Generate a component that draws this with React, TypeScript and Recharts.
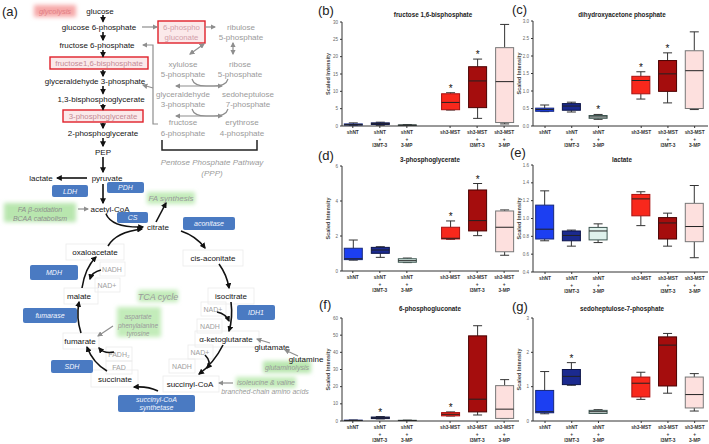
import React from "react";
import { ComposedChart, Bar, XAxis, YAxis } from "recharts";

const FONT = "'Liberation Sans', Arial, Helvetica, sans-serif";

// groups on the x axis (gap between shNT and sh3-MST sets)
const groupPos = [1, 2, 3, 4.6, 5.6, 6.6];
const groupLines = [
  ["shNT"],
  ["shNT", "+", "I3MT-3"],
  ["shNT", "+", "3-MP"],
  ["sh3-MST"],
  ["sh3-MST", "+", "I3MT-3"],
  ["sh3-MST", "+", "3-MP"],
];
const groupFill = ["#1c3ff2", "#1b2a8f", "#dff1ec", "#f8281c", "#a50d0d", "#fde0de"];
const groupStroke = ["#17287a", "#0b144a", "#3e5752", "#a81010", "#4a0000", "#777777"];

// [min, q1, median, q3, max] per group
const f16bpStats = [
  [0.1, 0.25, 0.4, 0.6, 0.9],
  [0.2, 0.45, 0.65, 0.9, 1.1],
  [0.1, 0.18, 0.25, 0.3, 0.4],
  [4.6, 4.7, 6.8, 9.3, 9.6],
  [2.2, 5.3, 13.0, 17.1, 19.3],
  [0.6, 1.0, 12.8, 22.6, 29.3],
];
const f16bpStars = [false, false, false, true, true, false];
const f16bpTicks = [0, 5, 10, 15, 20, 25, 30];

const dhapStats = [
  [0.41, 0.42, 0.47, 0.51, 0.6],
  [0.4, 0.45, 0.57, 0.64, 0.68],
  [0.19, 0.22, 0.26, 0.3, 0.33],
  [0.77, 0.92, 1.3, 1.42, 1.55],
  [0.66, 0.99, 1.49, 1.87, 2.09],
  [0.47, 0.5, 1.58, 2.15, 2.69],
];
const dhapStars = [false, false, true, true, true, false];
const dhapTicks = [0, 0.5, 1, 1.5, 2, 2.5, 3];

const pgStats = [
  [0.62, 0.65, 0.7, 1.3, 1.77],
  [0.78, 1.01, 1.2, 1.35, 1.39],
  [0.48, 0.5, 0.59, 0.7, 0.74],
  [1.81, 1.83, 1.87, 2.5, 2.86],
  [2.02, 2.29, 2.88, 4.63, 5.0],
  [0.9, 1.1, 2.5, 3.43, 3.49],
];
const pgStars = [false, false, false, true, true, false];
const pgTicks = [0, 2, 4, 6];

const lactateStats = [
  [0.75, 0.77, 0.88, 1.15, 1.31],
  [0.69, 0.75, 0.81, 0.86, 0.87],
  [0.73, 0.76, 0.86, 0.9, 0.94],
  [0.92, 1.03, 1.22, 1.27, 1.3],
  [0.69, 0.77, 0.95, 1.01, 1.06],
  [0.56, 0.74, 0.91, 1.17, 1.37],
];
const lactateStars = [false, false, false, false, false, false];
const lactateTicks = [0.4, 0.6, 0.8, 1.0, 1.2, 1.4, 1.6];

const pgluStats = [
  [0.1, 0.2, 0.3, 0.5, 0.6],
  [1.2, 1.4, 1.8, 2.3, 2.6],
  [0.1, 0.2, 0.3, 0.4, 0.5],
  [2.9, 3.0, 3.9, 4.9, 5.3],
  [3.5, 5.3, 12.7, 49.6, 55.5],
  [1.4, 1.5, 6.9, 20.6, 24.1],
];
const pgluStars = [false, true, false, true, false, false];
const pgluTicks = [0, 10, 20, 30, 40, 50, 60];

const s7pStats = [
  [0.21, 0.24, 0.27, 0.89, 1.44],
  [1.04, 1.06, 1.3, 1.5, 1.7],
  [0.22, 0.22, 0.27, 0.31, 0.33],
  [0.63, 0.7, 1.1, 1.28, 1.42],
  [0.81, 1.02, 2.21, 2.45, 2.55],
  [0.29, 0.38, 0.77, 1.28, 1.38],
];
const s7pStars = [false, true, false, false, false, false];
const s7pTicks = [0, 1, 2, 3];

const BoxShape = (props: any) => {
  const { x, y, width, height, payload } = props;
  const [lo, q1, med, q3, hi] = payload.stats;
  const span = hi - lo || 1;
  const py = (v: number) => y + ((hi - v) / span) * height;
  const cx = x + width / 2;
  const bw = 18;
  const i = payload.idx;
  const cap = 4.5;
  return (
    <g>
      <line x1={cx} x2={cx} y1={py(hi)} y2={py(q3)} stroke="#333" strokeWidth={1} />
      <line x1={cx} x2={cx} y1={py(q1)} y2={py(lo)} stroke="#333" strokeWidth={1} />
      <line x1={cx - cap} x2={cx + cap} y1={py(hi)} y2={py(hi)} stroke="#333" strokeWidth={1} />
      <line x1={cx - cap} x2={cx + cap} y1={py(lo)} y2={py(lo)} stroke="#333" strokeWidth={1} />
      <rect
        x={cx - bw / 2}
        y={py(q3)}
        width={bw}
        height={Math.max(py(q1) - py(q3), 1)}
        fill={groupFill[i]}
        stroke={groupStroke[i]}
        strokeWidth={1}
      />
      <line x1={cx - bw / 2} x2={cx + bw / 2} y1={py(med)} y2={py(med)} stroke="#222" strokeWidth={1} />
      {payload.star && (
        <text x={cx} y={py(hi) - 1} textAnchor="middle" fontSize={10} fontFamily={FONT} fill="#111">
          *
        </text>
      )}
    </g>
  );
};

const GroupTick = (props: any) => {
  const { x, y, payload } = props;
  const i = groupPos.indexOf(payload.value);
  const lines = groupLines[i] || [];
  return (
    <g>
      {lines.map((t, k) => (
        <text
          key={k}
          x={x}
          y={y + 4 + k * 6.5}
          textAnchor="middle"
          fontSize={4.8}
          fontWeight="bold"
          fill="#333"
          fontFamily={FONT}
        >
          {t}
        </text>
      ))}
    </g>
  );
};

interface PanelProps {
  stats: number[][];
  stars: boolean[];
  yTicks: number[];
  decimals: number;
  left: number;
  top: number;
  width: number;
  height: number;
  xDomain: [number, number];
}

const BoxPanel: React.FC<PanelProps> = ({ stats, stars, yTicks, decimals, left, top, width, height, xDomain }) => {
  const data = stats.map((s, i) => ({
    x: groupPos[i],
    range: [s[0], s[4]],
    stats: s,
    star: stars[i],
    idx: i,
  }));
  return (
    <div style={{ position: "absolute", left, top, width, height }}>
      <ComposedChart width={width} height={height} data={data} margin={{ top: 4, right: 2, bottom: 0, left: 0 }}>
        <XAxis
          type="number"
          dataKey="x"
          domain={xDomain}
          ticks={groupPos}
          interval={0}
          tick={<GroupTick />}
          tickSize={2}
          tickLine={{ stroke: "#333" }}
          axisLine={{ stroke: "#333" }}
          height={24}
          allowDataOverflow
        />
        <YAxis
          type="number"
          domain={[yTicks[0], yTicks[yTicks.length - 1]]}
          ticks={yTicks}
          interval={0}
          width={30}
          tickSize={2}
          tick={{ fontSize: 4.5, fill: "#666", fontFamily: FONT }}
          tickFormatter={(v: number) => v.toFixed(decimals)}
          axisLine={{ stroke: "#333" }}
          tickLine={{ stroke: "#333" }}
          allowDataOverflow
          label={{
            value: "Scaled Intensity",
            angle: -90,
            position: "insideLeft",
            offset: 16,
            style: { textAnchor: "middle", fontSize: 5.5, fontWeight: "bold", fill: "#444", fontFamily: FONT },
          }}
        />
        <Bar dataKey="range" barSize={18} shape={<BoxShape />} isAnimationActive={false} />
      </ComposedChart>
    </div>
  );
};

const Title = ({ cx, cy, text }: { cx: number; cy: number; text: string }) => (
  <div
    style={{
      position: "absolute",
      left: cx - 100,
      top: cy - 4,
      width: 200,
      textAlign: "center",
      fontSize: 6.3,
      lineHeight: "8px",
      fontWeight: "bold",
      color: "#222",
      fontFamily: FONT,
    }}
  >
    {text}
  </div>
);

const Letter = ({ x, y, t }: { x: number; y: number; t: string }) => (
  <div style={{ position: "absolute", left: x, top: y, fontSize: 13, lineHeight: "14px", color: "#222", fontFamily: FONT }}>
    {t}
  </div>
);

// ---------- pathway diagram ----------
const T = ({ x, y, s = 8, c = "#151515", it = false, children }: any) => (
  <text
    x={x}
    y={y}
    fontSize={s}
    fill={c}
    fontStyle={it ? "italic" : "normal"}
    textAnchor="middle"
    dominantBaseline="central"
    fontFamily={FONT}
  >
    {children}
  </text>
);

const Blue = ({ x, y, w, h, lines }: any) => (
  <g>
    <rect x={x} y={y} width={w} height={h} rx={2} fill="#4a7ac2" />
    {lines.map((l: string, k: number) => (
      <T key={k} x={x + w / 2} y={y + h / 2 + (k - (lines.length - 1) / 2) * 7.5} s={7} c="#f4f7ff" it>
        {l}
      </T>
    ))}
  </g>
);

const Glow = ({ x, y, w, h, c }: any) => <rect x={x} y={y} width={w} height={h} fill={c} filter="url(#blur)" />;

const A = ({ d, g, both }: any) => (
  <path
    d={d}
    fill="none"
    stroke={g ? "#8e8e8e" : "#111"}
    strokeWidth={g ? 1.2 : 1.6}
    markerEnd={`url(#${g ? "ahg" : "ahb"})`}
    markerStart={both ? `url(#${g ? "ahg" : "ahb"})` : undefined}
  />
);

const Pathway = () => (
  <svg width={330} height={444} style={{ position: "absolute", left: 0, top: 0 }}>
    <defs>
      <filter id="blur" x="-30%" y="-50%" width="160%" height="200%">
        <feGaussianBlur stdDeviation="2.2" />
      </filter>
      <marker id="ahb" viewBox="0 0 10 10" refX="8" refY="5" markerWidth="6" markerHeight="6" markerUnits="userSpaceOnUse" orient="auto-start-reverse">
        <path d="M0,0 L10,5 L0,10 z" fill="#111" />
      </marker>
      <marker id="ahg" viewBox="0 0 10 10" refX="8" refY="5" markerWidth="5.5" markerHeight="5.5" markerUnits="userSpaceOnUse" orient="auto-start-reverse">
        <path d="M0,0 L10,5 L0,10 z" fill="#8e8e8e" />
      </marker>
    </defs>

    {/* glows */}
    <Glow x={34} y={5} w={42} h={12} c="#f6a9a9" />
    <Glow x={4} y={203} w={72} h={19} c="#b8e6ae" />
    <Glow x={147} y={192} w={48} h={12} c="#c3ecba" />
    <Glow x={138} y={290} w={40} h={12} c="#c3ecba" />
    <Glow x={117} y={307} w={44} h={30} c="#c3ecba" />
    <Glow x={263} y={361} w={48} h={12} c="#b8e6ae" />
    <Glow x={236} y={377} w={60} h={11} c="#c3ecba" />

    {/* faint boxes */}
    {[
      [66, 244, 58, 16],
      [183, 250, 60, 16],
      [208, 288, 46, 16],
      [64, 288, 34, 16],
      [63, 333, 36, 16],
      [195, 331, 64, 16],
      [91, 370, 47, 17],
      [163, 376, 56, 16],
      [100, 262, 25, 14],
      [95, 278, 25, 14],
      [201, 302, 25, 14],
      [197, 319, 25, 14],
      [106, 347, 26, 14],
      [106, 361, 26, 13],
      [188, 345, 25, 14],
      [169, 359, 26, 14],
    ].map((r, k) => (
      <rect key={k} x={r[0]} y={r[1]} width={r[2]} height={r[3]} fill="none" stroke="#ebebeb" strokeWidth={0.8} />
    ))}

    <text x={2} y={16} fontSize={13} fill="#222" fontFamily={FONT}>(a)</text>
    <T x={55} y={11} s={7.5} c="#e27f86" it>glycolysis</T>

    {/* glycolysis */}
    <T x={100} y={11}>glucose</T>
    <T x={99} y={27}>glucose 6-phosphate</T>
    <T x={97} y={45}>fructose 6-phosphate</T>
    <rect x={50} y={57} width={98} height={12} fill="#fbe9ea" stroke="#e0202a" strokeWidth={1.4} />
    <T x={99} y={63.5} s={7.8} c="#c48a95">fructose1,6-bisphosphate</T>
    <T x={95} y={81}>glyceraldehyde 3-phosphate</T>
    <T x={101} y={99}>1,3-bisphosphoglycerate</T>
    <rect x={63} y={110} width={80} height={12} fill="#fbe9ea" stroke="#e0202a" strokeWidth={1.4} />
    <T x={103} y={116.5} s={7.8} c="#c48a95">3-phosphoglycerate</T>
    <T x={103} y={133}>2-phosphoglycerate</T>
    <T x={103} y={152}>PEP</T>
    <T x={107} y={178}>pyruvate</T>
    <T x={41} y={178}>lactate</T>
    <T x={110} y={209}>acetyl-CoA</T>

    {[
      [15, 21.5], [32, 40], [50, 56.5], [70, 76], [86, 93.5], [104, 109.5], [123, 128], [138, 146], [157, 172], [184, 203],
    ].map((s, k) => (
      <A key={k} d={`M103 ${s[0]} V${s[1]}`} />
    ))}
    <A d="M87 178 H57" />

    {/* PPP */}
    <rect x={158} y={21} width={47} height={22} fill="#fbe9ea" stroke="#e0202a" strokeWidth={1.4} />
    <T x={181.5} y={27.5} s={7.8} c="#d2a0aa">6-phospho</T>
    <T x={181.5} y={37} s={7.8} c="#d2a0aa">gluconate</T>
    <T x={241} y={27} c="#9a9a9a">ribulose</T>
    <T x={241} y={37} c="#9a9a9a">5-phosphate</T>
    <T x={183} y={64} c="#9a9a9a">xylulose</T>
    <T x={183} y={74} c="#9a9a9a">5-phosphate</T>
    <T x={240} y={64} c="#9a9a9a">ribose</T>
    <T x={240} y={74} c="#9a9a9a">5-phosphate</T>
    <T x={183} y={94} c="#9a9a9a">glyceraldehyde</T>
    <T x={183} y={104} c="#9a9a9a">3-phosphate</T>
    <T x={248} y={94} c="#9a9a9a">sedoheptulose</T>
    <T x={248} y={104} c="#9a9a9a">7-phosphate</T>
    <T x={183} y={122} c="#9a9a9a">fructose</T>
    <T x={183} y={133} c="#9a9a9a">6-phosphate</T>
    <T x={242} y={122} c="#9a9a9a">erythrose</T>
    <T x={242} y={133} c="#9a9a9a">4-phosphate</T>
    <T x={212} y={162} c="#9a9a9a" it>Pentose Phosphate Pathway</T>
    <T x={212} y={173} c="#9a9a9a" it>(PPP)</T>
    <path d="M162 140 V150 H257 V140" fill="none" stroke="#222" strokeWidth={1.5} />
    <A g d="M142 27 H157" />
    <A g d="M205 27 H215" />
    <A g both d="M233 43 V54" />
    <A g both d="M204 44 L190 54" />
    <A g d="M192 79 Q194 86 206 86 H222" />
    <A g d="M228 79 Q226 86 214 86 H176" />
    <A g d="M192 109 Q194 116 206 116 H222" />
    <A g d="M228 109 Q226 116 214 116 H176" />
    <A g d="M158 124 H153 V45 H143" />
    <A g d="M153 88 L143 85" />

    {/* TCA */}
    <T x={40} y={209} s={7} c="#8d8d8d" it>FA β-oxidation</T>
    <T x={40} y={218} s={7} c="#8d8d8d" it>BCAA catabolism</T>
    <A g d="M78 209 H88" />
    <T x={171} y={198} c="#9a9a9a" it>FA synthesis</T>
    <T x={158} y={227}>citrate</T>
    <T x={95} y={252}>oxaloacetate</T>
    <T x={213} y={258}>cis-aconitate</T>
    <T x={79} y={296}>malate</T>
    <T x={231} y={296}>isocitrate</T>
    <T x={158} y={297} s={9} c="#9a9a9a" it>TCA cycle</T>
    <T x={80} y={341}>fumarate</T>
    <T x={226} y={339}>α-ketoglutarate</T>
    <T x={272} y={347}>glutamate</T>
    <T x={306} y={359}>glutamine</T>
    <T x={115} y={379}>succinate</T>
    <T x={190} y={384}>succinyl-CoA</T>
    <T x={138} y={316} s={6.5} c="#9a9a9a" it>aspartate</T>
    <T x={138} y={325} s={6.5} c="#9a9a9a" it>phenylalanine</T>
    <T x={138} y={333} s={6.5} c="#9a9a9a" it>tyrosine</T>
    <T x={287} y={367} s={7} c="#9a9a9a" it>glutaminolysis</T>
    <T x={266} y={382} s={7} c="#9a9a9a" it>isoleucine &amp; valine</T>
    <T x={265} y={391} s={7} c="#9a9a9a" it>branched-chain amino acids</T>

    <T x={112} y={269} s={7} c="#a0a0a0">NADH</T>
    <T x={107} y={285} s={7} c="#a0a0a0">NAD+</T>
    <T x={213} y={309} s={7} c="#a0a0a0">NAD+</T>
    <T x={210} y={326} s={7} c="#a0a0a0">NADH</T>
    <T x={119} y={354} s={7} c="#a0a0a0">FADH₂</T>
    <T x={119} y={367} s={7} c="#a0a0a0">FAD</T>
    <T x={200} y={352} s={7} c="#a0a0a0">NAD+</T>
    <T x={182} y={366} s={7} c="#a0a0a0">NADH</T>

    <Blue x={52} y={185} w={36} h={12} lines={["LDH"]} />
    <Blue x={107} y={182} w={37} h={11} lines={["PDH"]} />
    <Blue x={117} y={212} w={31} h={11} lines={["CS"]} />
    <Blue x={183} y={217} w={52} h={13} lines={["aconitase"]} />
    <Blue x={30} y={265} w={48} h={15} lines={["MDH"]} />
    <Blue x={23} y={308} w={54} h={15} lines={["fumarase"]} />
    <Blue x={237} y={305} w={38} h={15} lines={["IDH1"]} />
    <Blue x={51} y={360} w={42} h={13} lines={["SDH"]} />
    <Blue x={118} y={395} w={77} h={17} lines={["succinyl-CoA", "synthetase"]} />

    <A d="M106 214 Q112 228 143 227" />
    <A d="M108 246 Q116 232 142 229" />
    <A d="M156 222 L166 203" />
    <A d="M181 231 Q196 236 205 248" />
    <A d="M219 264 Q227 275 229 288" />
    <A d="M231 302 Q233 318 229 331" />
    <A d="M223 345 Q214 363 199 374" />
    <A d="M158 391 Q148 386 134 387" />
    <A d="M107 371 Q93 363 87 347" />
    <A d="M81 333 Q76 318 79 302" />
    <A d="M82 288 Q85 268 96 257" />
    <A d="M101 270 Q92 272 90 279" />
    <A d="M217 312 Q226 314 229 321" />
    <A d="M114 352 Q104 354 99 348" />
    <A d="M205 355 Q212 362 207 368" />
    <A g d="M270 343 L257 339" />
    <A g d="M298 356 L285 350" />
    <A g d="M233 383 H219" />
    <A g d="M113 326 L98 336" />
  </svg>
);

const App: React.FC = () => {
  const c1 = { left: 312, width: 209, xDomain: [0.6, 7.15] as [number, number] };
  const c2 = { left: 503, width: 207, xDomain: [0.55, 7.1] as [number, number] };
  return (
    <div
      style={{
        position: "absolute",
        left: 0,
        top: 0,
        width: 709,
        height: 444,
        overflow: "hidden",
        background: "#fff",
        fontFamily: FONT,
      }}
    >
      <Pathway />

      <Letter x={318} y={4} t="(b)" />
      <Letter x={512} y={3} t="(c)" />
      <Letter x={318} y={149} t="(d)" />
      <Letter x={510} y={146} t="(e)" />
      <Letter x={319} y={298} t="(f)" />
      <Letter x={512} y={300} t="(g)" />

      <Title cx={433} cy={15} text="fructose 1,6-bisphosphate" />
      <Title cx={622} cy={15} text="dihydroxyacetone phosphate" />
      <Title cx={430} cy={160} text="3-phosphoglycerate" />
      <Title cx={622} cy={160} text="lactate" />
      <Title cx={430} cy={309} text="6-phosphogluconate" />
      <Title cx={622} cy={309} text="sedoheptulose-7-phosphate" />

      <BoxPanel {...c1} top={18} height={132} stats={f16bpStats} stars={f16bpStars} yTicks={f16bpTicks} decimals={0} />
      <BoxPanel {...c2} top={17} height={133} stats={dhapStats} stars={dhapStars} yTicks={dhapTicks} decimals={1} />
      <BoxPanel {...c1} top={162} height={133} stats={pgStats} stars={pgStars} yTicks={pgTicks} decimals={0} />
      <BoxPanel {...c2} top={161} height={135} stats={lactateStats} stars={lactateStars} yTicks={lactateTicks} decimals={1} />
      <BoxPanel {...c1} top={314} height={131} stats={pgluStats} stars={pgluStars} yTicks={pgluTicks} decimals={0} />
      <BoxPanel {...c2} top={314} height={131} stats={s7pStats} stars={s7pStars} yTicks={s7pTicks} decimals={0} />
    </div>
  );
};

export default App;
